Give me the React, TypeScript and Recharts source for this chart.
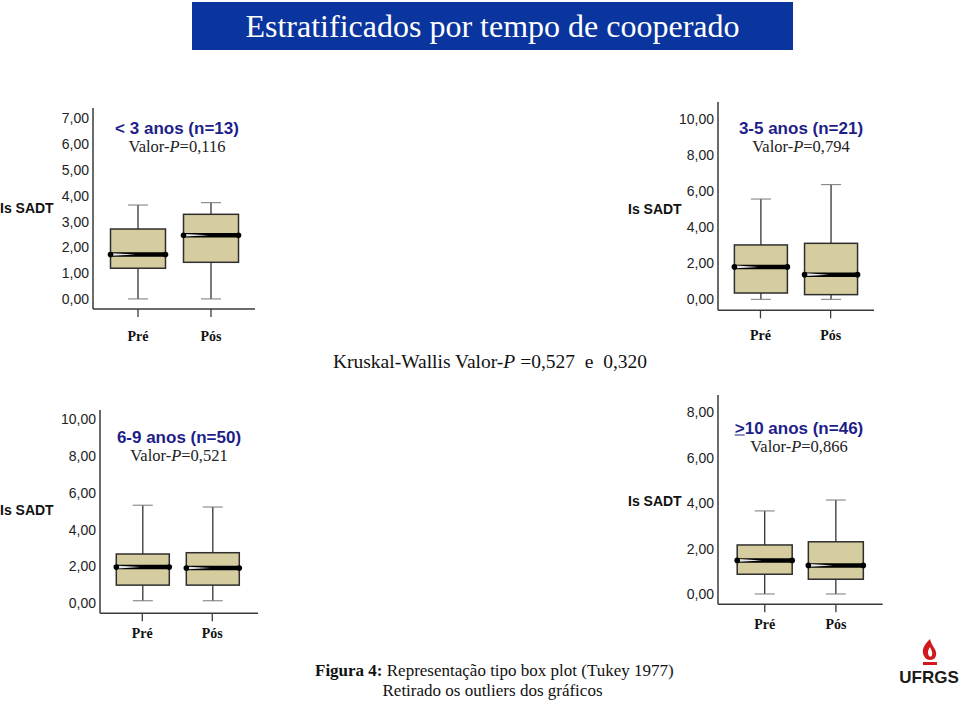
import React from "react";
import { ComposedChart, Bar, XAxis, YAxis } from "recharts";

const categories = ["Pré", "Pós"];

// [min, q1, mediana, q3, max] para Pré e Pós
const boxLt3 = [
  [0, 1.19, 1.72, 2.71, 3.64],
  [0, 1.42, 2.47, 3.28, 3.73],
];
const box3a5 = [
  [0, 0.35, 1.8, 3.02, 5.57],
  [0, 0.26, 1.37, 3.11, 6.37],
];
const box6a9 = [
  [0.14, 0.99, 1.97, 2.68, 5.33],
  [0.14, 0.99, 1.92, 2.75, 5.23],
];
const boxGe10 = [
  [0, 0.87, 1.48, 2.16, 3.66],
  [0, 0.65, 1.26, 2.3, 4.14],
];

const ticksLt3 = [0, 1, 2, 3, 4, 5, 6, 7];
const ticks3a5 = [0, 2, 4, 6, 8, 10];
const ticks6a9 = [0, 2, 4, 6, 8, 10];
const ticksGe10 = [0, 2, 4, 6, 8];

const SERIF = '"Liberation Serif", "Times New Roman", serif';
const SANS = '"Liberation Sans", Arial, sans-serif';
const AXIS = "#3a3a3a";
const NAVY = "#1e1e8a";

const fmt = (v: number) => v.toFixed(2).replace(".", ",");

function BoxShape(props: any) {
  const { x, y, width, height, payload } = props;
  if (!payload) return null;
  const [mn, q1, med, q3, mx] = payload.stats;
  const top = Math.min(y, y + height);
  const h = Math.abs(height);
  const py = (v: number) => top + ((mx - v) / (mx - mn)) * h;
  const cx = x + width / 2;
  const l = x;
  const r = x + width;
  const m = py(med);
  return (
    <g>
      <line x1={cx} x2={cx} y1={py(mx)} y2={py(q3)} stroke="#333" strokeWidth={1.3} />
      <line x1={cx} x2={cx} y1={py(q1)} y2={py(mn)} stroke="#333" strokeWidth={1.3} />
      <line x1={cx - 10} x2={cx + 10} y1={py(mx)} y2={py(mx)} stroke="#777" strokeWidth={1} />
      <line x1={cx - 10} x2={cx + 10} y1={py(mn)} y2={py(mn)} stroke="#777" strokeWidth={1} />
      <rect x={l} y={py(q3)} width={width} height={py(q1) - py(q3)} fill="#d5cd9f" stroke="#2e2e2e" strokeWidth={1.5} />
      <line x1={l} x2={r} y1={m} y2={m} stroke="#000" strokeWidth={4.5} />
      <polygon points={`${l + 2},${m - 1.3} ${l + width * 0.45},${m} ${l + 2},${m + 1.3}`} fill="#fff" opacity={0.9} />
      <circle cx={l} cy={m} r={2.8} fill="#000" />
      <circle cx={r} cy={m} r={2.8} fill="#000" />
    </g>
  );
}

interface PanelProps {
  stats: number[][];
  ticks: number[];
  domain: [number, number];
  left: number;
  top: number;
  right: number;
  bottom: number;
  pad: [number, number];
  barSize: number;
  tickMargin: number;
}

function Panel({ stats, ticks, domain, left, top, right, bottom, pad, barSize, tickMargin }: PanelProps) {
  const data = categories.map((c, i) => ({
    name: c,
    range: [stats[i][0], stats[i][4]],
    stats: stats[i],
  }));
  const W = 60;
  const M = 6;
  const XH = 45;
  return (
    <div style={{ position: "absolute", left: left - W, top: top - M }}>
      <ComposedChart
        width={right - left + W + M}
        height={bottom - top + M + XH}
        data={data}
        margin={{ top: M, right: M, left: 0, bottom: 0 }}
      >
        <XAxis
          dataKey="name"
          height={XH}
          interval={0}
          padding={{ left: pad[0], right: pad[1] }}
          tickSize={8}
          tickMargin={tickMargin}
          axisLine={{ stroke: AXIS, strokeWidth: 1.5 }}
          tickLine={{ stroke: AXIS, strokeWidth: 1.3 }}
          tick={{ fontFamily: SERIF, fontWeight: "bold", fontSize: 14, fill: "#111" }}
        />
        <YAxis
          type="number"
          width={W}
          domain={domain}
          ticks={ticks}
          allowDataOverflow
          interval={0}
          tickFormatter={fmt}
          tickLine={false}
          tickSize={0}
          tickMargin={4}
          axisLine={{ stroke: AXIS, strokeWidth: 1.5 }}
          tick={{ fontFamily: SANS, fontSize: 14, fill: "#222" }}
        />
        <Bar dataKey="range" barSize={barSize} shape={<BoxShape />} isAnimationActive={false} />
      </ComposedChart>
    </div>
  );
}

const abs = (left: number, top: number, extra: React.CSSProperties = {}): React.CSSProperties => ({
  position: "absolute",
  left,
  top,
  transform: "translate(-50%, -50%)",
  whiteSpace: "pre",
  lineHeight: 1,
  ...extra,
});

function PanelTitle({ x, y, children, p }: { x: number; y: number; children: React.ReactNode; p: string }) {
  return (
    <>
      <div style={abs(x, y, { fontFamily: SANS, fontWeight: "bold", fontSize: 17, color: NAVY })}>{children}</div>
      <div style={abs(x, y + 18.5, { fontFamily: SERIF, fontSize: 16.5, color: "#222" })}>
        Valor-<i>P</i>={p}
      </div>
    </>
  );
}

function Ylabel({ x, y }: { x: number; y: number }) {
  return (
    <div style={{ position: "absolute", left: x, top: y, transform: "translateY(-50%)", fontFamily: SANS, fontWeight: "bold", fontSize: 14, color: "#111", lineHeight: 1, whiteSpace: "pre" }}>
      Is SADT
    </div>
  );
}

export default function App() {
  return (
    <div style={{ position: "absolute", left: 0, top: 0, width: 960, height: 701, background: "#fff", overflow: "hidden" }}>
      <div
        style={{
          position: "absolute",
          left: 192,
          top: 2,
          width: 601,
          height: 48,
          background: "#0a349e",
          color: "#fff",
          fontFamily: SERIF,
          fontSize: 32,
          lineHeight: "48px",
          textAlign: "center",
        }}
      >
        Estratificados por tempo de cooperado
      </div>

      <Panel stats={boxLt3} ticks={ticksLt3} domain={[-0.39, 7.4]} left={93} top={108} right={255} bottom={309} pad={[8.5, 7.5]} barSize={55} tickMargin={14} />
      <Panel stats={box3a5} ticks={ticks3a5} domain={[-0.61, 10.96]} left={718} top={101.7} right={874} bottom={310} pad={[7.4, 8.3]} barSize={53} tickMargin={12} />
      <Panel stats={box6a9} ticks={ticks6a9} domain={[-0.54, 10.5]} left={100} top={410} right={258} bottom={613.3} pad={[7.3, 10.7]} barSize={53} tickMargin={6.5} />
      <Panel stats={boxGe10} ticks={ticksGe10} domain={[-0.455, 8.77]} left={718} top={395} right={882.7} bottom={604.3} pad={[11.2, 11.2]} barSize={55} tickMargin={7.2} />

      <Ylabel x={0} y={208} />
      <Ylabel x={628} y={209} />
      <Ylabel x={0} y={510} />
      <Ylabel x={628} y={501} />

      <PanelTitle x={177} y={128} p="0,116">{"< 3 anos (n=13)"}</PanelTitle>
      <PanelTitle x={801} y={128} p="0,794">{"3-5 anos (n=21)"}</PanelTitle>
      <PanelTitle x={179} y={437} p="0,521">{"6-9 anos (n=50)"}</PanelTitle>
      <PanelTitle x={799} y={428} p="0,866">
        <span style={{ textDecoration: "underline" }}>{">"}</span>
        {"10 anos (n=46)"}
      </PanelTitle>

      <div style={abs(490, 362, { fontFamily: SERIF, fontSize: 19.5, color: "#111" })}>
        Kruskal-Wallis Valor-<i>P</i> =0,527  e  0,320
      </div>

      <div style={{ position: "absolute", left: 315, top: 670, transform: "translateY(-50%)", fontFamily: SERIF, fontSize: 17, color: "#111", lineHeight: 1, whiteSpace: "pre" }}>
        <b>Figura 4:</b> Representação tipo box plot (Tukey 1977)
      </div>
      <div style={abs(492.5, 690, { fontFamily: SERIF, fontSize: 17, color: "#111" })}>Retirado os outliers dos gráficos</div>

      <svg style={{ position: "absolute", left: 915, top: 638 }} width={30} height={30} viewBox="0 0 30 30">
        <path d="M15 1 C9 7 6 12 9 18 C10.5 21 13 22 15 22 C19 22 22 19 21 14 C20 10 17 8 15 1 Z" fill="#d2181f" />
        <path d="M15 9 C13 12 12 15 14 18 C15 19 16.5 19 17 17 C18 14 16 12 15 9 Z" fill="#fff" />
        <rect x={8} y={24} width={14} height={3} fill="#d2181f" />
      </svg>
      <div style={abs(929, 677, { fontFamily: SANS, fontWeight: 900, fontSize: 17, color: "#1a1a1a" })}>UFRGS</div>
    </div>
  );
}
